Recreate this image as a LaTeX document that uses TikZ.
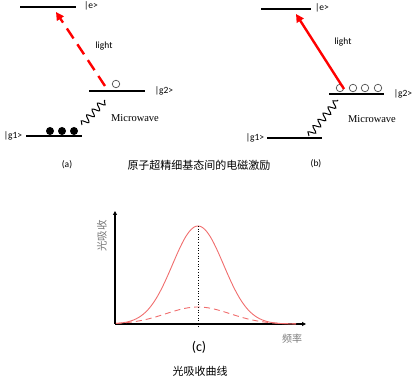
\documentclass[tikz,border=0pt]{standalone}
\usepackage{fontspec}
\setmainfont{Carlito}
\newfontfamily\serifmw{Liberation Serif}
\newfontfamily\cjk{Noto Sans CJK SC}
\usetikzlibrary{arrows.meta,decorations.pathmorphing}

\definecolor{lightred}{RGB}{255,0,0}
\definecolor{curvered}{RGB}{240,110,110}
\definecolor{axisgray}{RGB}{120,120,120}

\tikzset{every picture/.style={line width=0.75pt}}
\tikzset{
  level/.style={line width=1.6pt},
  lbl/.style={font=\fontsize{9.5}{11}\selectfont},
  mw/.style={font=\serifmw\fontsize{10.5}{12}\selectfont},
  photon/.style={lightred,line width=2.4pt,-{Triangle[length=8pt,width=8pt]}},
  wave/.style={decorate,decoration={snake,amplitude=3.4pt,segment length=8pt},line width=1pt},
  atomfull/.style={circle,fill=black,inner sep=0pt,minimum size=8pt},
  atomempty/.style={circle,draw=black!70,line width=0.7pt,inner sep=0pt,minimum size=7.5pt},
  gauss/.style={curvered,line width=0.9pt,smooth},
}

\begin{document}
\begin{tikzpicture}[x=1pt,y=1pt,yscale=-1,xscale=1]
	\useasboundingbox (0,0) rectangle (416,379);

	%Panel (a) levels
	\draw [level] (20,7) coordinate (ea1) -- (76,7) coordinate (ea2) ;
	\draw [level] (89,91) coordinate (ga1) -- (145,91) coordinate (ga2) ;
	\draw [level] (26,136) coordinate (ha1) -- (82,136) coordinate (ha2) ;
	%light, dashed
	\coordinate (ptaila) at (105,86) ;
	\coordinate (pheada) at (56,12) ;
	\draw [photon,dash pattern={on 12pt off 7pt}] (ptaila) -- (pheada) ;
	%microwave
	\coordinate (wa1) at (82,125) ;
	\coordinate (wa2) at (105,100) ;
	\draw [wave] (wa1) -- (wa2) ;
	%atoms
	\node [atomempty] (oa1) at (116,84) {} ;
	\node [atomfull] (fa1) at (50,131) {} ;
	\node [atomfull] (fa2) at (62,131) {} ;
	\node [atomfull] (fa3) at (74,131) {} ;

	%Panel (b) levels
	\draw [level] (261,9) coordinate (eb1) -- (311,9) coordinate (eb2) ;
	\draw [level] (329,94) coordinate (gb1) -- (384,94) coordinate (gb2) ;
	\draw [level] (267,138) coordinate (hb1) -- (322,138) coordinate (hb2) ;
	%atoms
	\foreach \i/\x in {1/340,2/353,3/365,4/378}
	  \node [atomempty] (ob\i) at (\x,88) {} ;
	%light, solid
	\coordinate (ptailb) at (344,89) ;
	\coordinate (pheadb) at (296,14) ;
	\draw [photon] (ptailb) -- (pheadb) ;
	%microwave
	\coordinate (wb1) at (309,136) ;
	\coordinate (wb2) at (338,100) ;
	\draw [wave] (wb1) -- (wb2) ;

	% Text Nodes (a)
	\node [lbl] (tea) at (91,6) {|e>} ;
	\node [lbl] (tga) at (164,91) {|g2>} ;
	\node [lbl] (tha) at (13,136) {|g1>} ;
	\node [lbl] (lighta) at (104,46) {light} ;
	\node [mw] (mwa) at (135,118) {Microwave} ;
	\node [lbl] (capa) at (67,165) {(a)} ;
	% Text Nodes (b)
	\node [lbl] (teb) at (322,8) {|e>} ;
	\node [lbl] (tgb) at (403,94) {|g2>} ;
	\node [lbl] (thb) at (255,138) {|g1>} ;
	\node [lbl] (lightb) at (343,42) {light} ;
	\node [mw] (mwb) at (372,119) {Microwave} ;
	\node [lbl] (capb) at (316,164) {(b)} ;
	% caption
	\node [font=\cjk\fontsize{11}{13}\selectfont] (captop) at (199,165) {原子超精细基态间的电磁激励} ;

	%Panel (c) axes
	\coordinate (orig) at (115,324) ;
	\coordinate (ytop) at (115,211) ;
	\coordinate (xend) at (306,324) ;
	\draw [line width=1.6pt,-{Triangle[length=4pt,width=4pt]}] (orig) -- (ytop) ;
	\draw [line width=1.6pt,-{Triangle[length=4pt,width=4pt]}] (orig) -- (xend) ;
	%absorption curves
	\draw [gauss] plot [domain=116:296,samples=80] (\x,{324-98*exp(-((\x-198)/25.5)^2/2)}) ;
	\draw [gauss,dash pattern={on 6pt off 4pt}] plot [domain=116:296,samples=80] (\x,{324-17*exp(-((\x-198)/32)^2/2)}) ;
	%centre line
	\coordinate (peak) at (198,226) ;
	\coordinate (pfoot) at (198,328) ;
	\draw [dotted,line width=0.7pt] (peak) -- (pfoot) ;

	% Text Nodes (c)
	\node [font=\cjk\fontsize{10.5}{12}\selectfont,text=axisgray,rotate=90] (yl) at (102,236) {光吸收} ;
	\node [font=\cjk\fontsize{10}{12}\selectfont,text=axisgray] (xl) at (292,339) {频率} ;
	\node [font=\fontsize{14}{16}\selectfont] (capc) at (199,347) {(c)} ;
	\node [font=\cjk\fontsize{11}{13}\selectfont] (capbot) at (200,371) {光吸收曲线} ;

\end{tikzpicture}
\end{document}
